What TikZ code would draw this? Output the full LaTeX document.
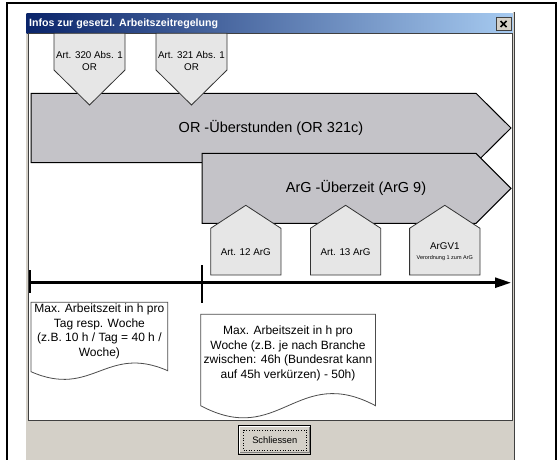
\documentclass[tikz,border=0pt]{standalone}
\usepackage{fontspec}
\setmainfont{Liberation Sans}
\usetikzlibrary{arrows.meta}

\definecolor{wingray}{RGB}{212,208,200}
\definecolor{titledark}{RGB}{10,36,106}
\definecolor{titlelight}{RGB}{166,202,240}
\definecolor{bandgray}{RGB}{196,195,200}
\definecolor{tabgray}{RGB}{230,230,230}
\definecolor{edgegray}{RGB}{64,64,64}

\begin{document}
\begin{tikzpicture}[x=1pt,y=-1pt]

    \useasboundingbox (0,0) rectangle (557,460);

    % window and frame
    \fill[wingray] (25,12) rectangle (514,461);
    \draw[white,line width=0.8pt] (25.4,461) -- (25.4,12.4) -- (513,12.4);
    \shade[left color=titledark,right color=titlelight] (26.5,13.3) rectangle (512.5,33.3);
    \fill[white] (28.5,33.3) rectangle (512.5,420);
    \draw[edgegray,line width=1pt] (28.5,33.3) rectangle (512.5,420);
    \draw[edgegray,line width=1pt] (514,12) -- (514,461);
    \draw[black,line width=2pt] (6.7,461) -- (6.7,3.3) -- (556,3.3) -- (556,461);

    \node[anchor=west,inner sep=0pt,text=white,font=\bfseries\fontsize{10.6}{12}\selectfont] (title) at (29,23.5) {Infos zur gesetzl. Arbeitszeitregelung};
    \draw[fill=wingray,draw=edgegray,line width=0.6pt] (496,17.5) rectangle (511,30.5);
    \draw[black,line width=1.5pt] (500.5,21) -- (506.5,27) (506.5,21) -- (500.5,27);

    % bands
    \begin{scope}[every node/.style={font=\fontsize{14.5}{17}\selectfont}]
        \draw[draw=black,line width=1pt,fill=bandgray] (31,93.3) -- (476,93.3) -- (511,128) -- (476,162.7) -- (31,162.7) -- cycle;
        \node (or) at (271,128) {OR -Überstunden (OR 321c)};
        \draw[draw=black,line width=1pt,fill=bandgray] (202,153.3) -- (476,153.3) -- (511,188.3) -- (476,223.3) -- (202,223.3) -- cycle;
        \node (arg) at (356,188.3) {ArG -Überzeit (ArG 9)};
    \end{scope}

    % tabs
    \begin{scope}[every node/.style={font=\fontsize{9.8}{11.7}\selectfont,align=center}]
        \draw[draw=black!80,line width=0.8pt,fill=tabgray] (54,33.3) -- (125,33.3) -- (125,70) -- (89.5,105) -- (54,70) -- cycle;
        \node (a320) at (89.5,61) {Art. 320 Abs. 1\\OR};
        \draw[draw=black!80,line width=0.8pt,fill=tabgray] (156,33.3) -- (227,33.3) -- (227,70) -- (191.5,105) -- (156,70) -- cycle;
        \node (a321) at (191.5,61) {Art. 321 Abs. 1\\OR};

        \draw[draw=black!80,line width=0.8pt,fill=tabgray] (210.7,275) -- (210.7,228.3) -- (245.8,205.3) -- (280.9,228.3) -- (280.9,275) -- cycle;
        \node (a12) at (245.8,251.7) {Art. 12 ArG};
        \draw[draw=black!80,line width=0.8pt,fill=tabgray] (310.5,275) -- (310.5,228.3) -- (345.6,205.3) -- (380.7,228.3) -- (380.7,275) -- cycle;
        \node (a13) at (345.6,251.7) {Art. 13 ArG};
        \draw[draw=black!80,line width=0.8pt,fill=tabgray] (409.6,275) -- (409.6,228.3) -- (444.8,205.3) -- (480,228.3) -- (480,275) -- cycle;
        \node (argv) at (444.8,246.5) {ArGV1};
        \node[font=\fontsize{5.5}{6}\selectfont] (argvsub) at (444.8,257.6) {Verordnung 1 zum ArG};
    \end{scope}

    % time line
    \coordinate (t0) at (30,282.7);
    \coordinate (t1) at (511,282.7);
    \coordinate (k0a) at (30,270);
    \coordinate (k0b) at (30,293.3);
    \coordinate (k1a) at (201.8,265);
    \coordinate (k1b) at (201.8,303.3);
    \draw[line width=2.6pt,-{Triangle[length=16pt,width=10pt]}] (t0) -- (t1);
    \draw[line width=2.6pt] (k0a) -- (k0b);
    \draw[line width=2.6pt] (k1a) -- (k1b);

    % notes
    \begin{scope}[every node/.style={font=\fontsize{12}{14.5}\selectfont,align=center}]
        \draw[draw=black!70,line width=0.8pt,fill=white] (31,302.3) -- (167.7,302.3) -- (167.7,370.7) .. controls (106.2,343.7) and (92.5,398.7) .. (31,371.7) -- cycle;
        \node (note1) at (99.4,331.5) {Max. Arbeitszeit in h pro\\Tag resp. Woche\\(z.B. 10 h / Tag = 40 h /\\Woche)};
        \draw[draw=black!70,line width=0.8pt,fill=white] (200.7,314.3) -- (375.5,314.3) -- (375.5,405.7) .. controls (296.8,363.7) and (279.4,447.7) .. (200.7,405.7) -- cycle;
        \node (note2) at (288,353.5) {Max. Arbeitszeit in h pro\\Woche (z.B. je nach Branche\\zwischen: 46h (Bundesrat kann\\auf 45h verkürzen) - 50h)};
    \end{scope}

    % button
    \draw[black,line width=1pt,fill=wingray] (238.7,425.7) rectangle (310.8,454);
    \draw[white,line width=0.8pt] (239.8,452.5) -- (239.8,426.8) -- (309.5,426.8);
    \draw[black!50,line width=0.8pt] (240.3,452.8) -- (309.7,452.8) -- (309.7,427.3);
    \draw[black,dotted,line width=0.6pt] (242.8,429.8) rectangle (306.7,449.9);
    \node[font=\fontsize{9.3}{11}\selectfont] (close) at (274.75,440) {Schliessen};

\end{tikzpicture}
\end{document}
